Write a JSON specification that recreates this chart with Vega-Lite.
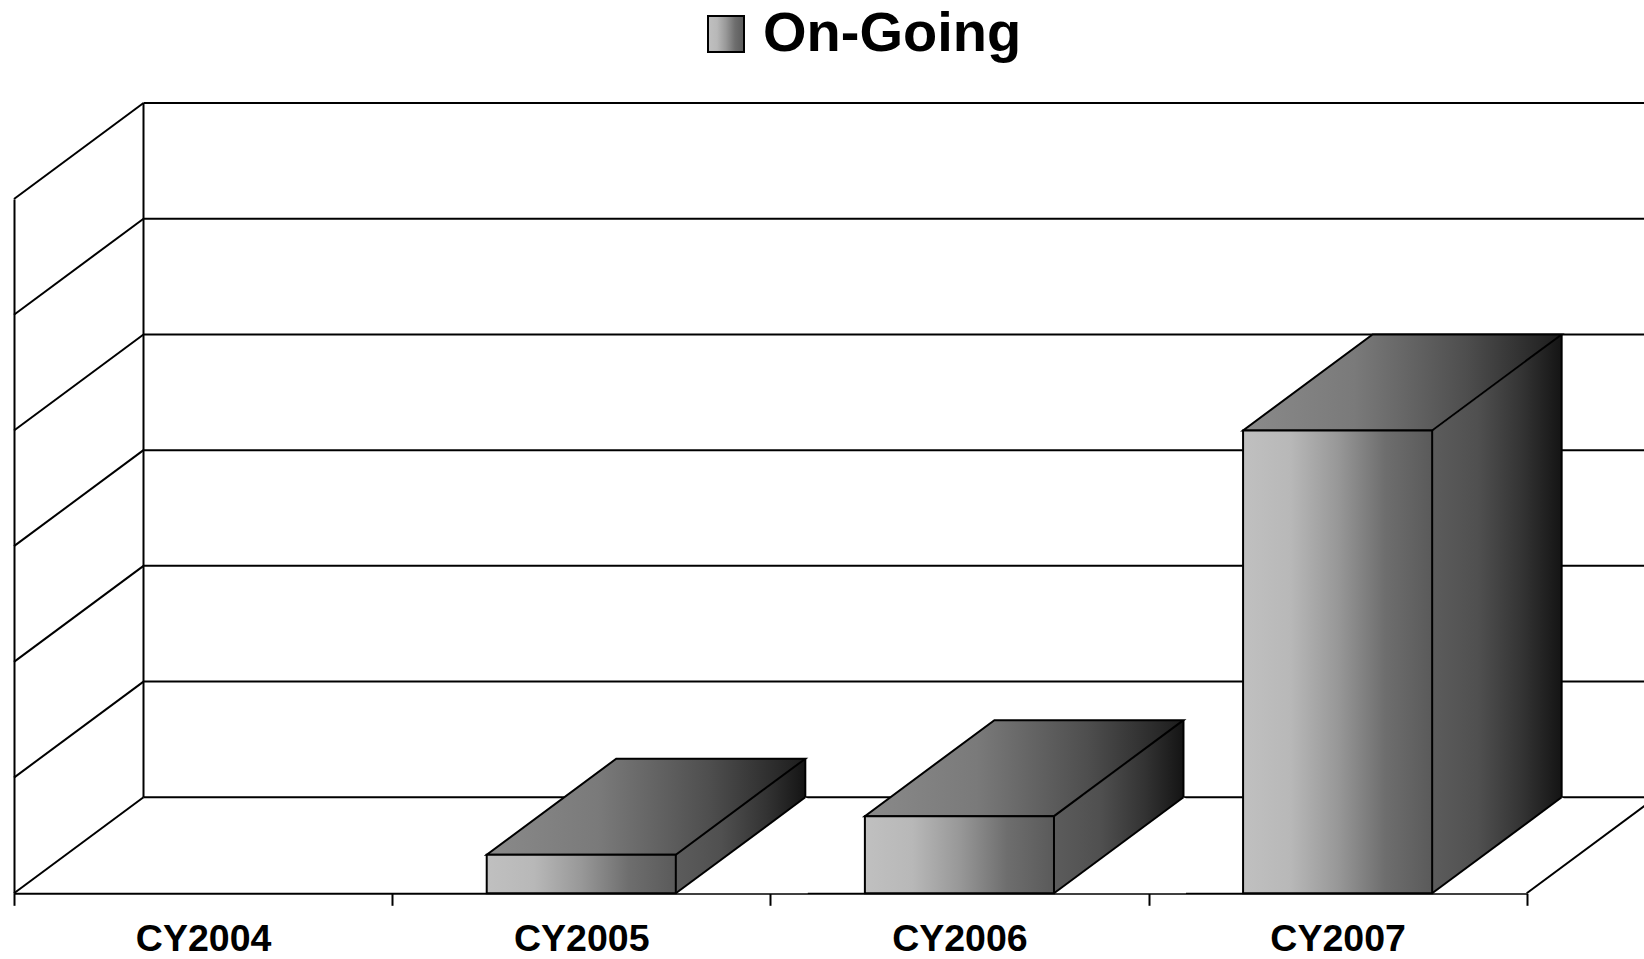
{
  "$schema": "https://vega.github.io/schema/vega-lite/v6.json",
  "width": 1512.7,
  "height": 694.3,
  "autosize": {"type": "none"},
  "padding": {"left": 14, "top": 199, "right": 117.3, "bottom": 65.7},
  "background": "white",
  "datasets": {
    "bars": [
      {"year": "CY2004", "series": "On-Going", "value": 0},
      {"year": "CY2005", "series": "On-Going", "value": 1},
      {"year": "CY2006", "series": "On-Going", "value": 2},
      {"year": "CY2007", "series": "On-Going", "value": 12}
    ],
    "grid": [{"v": 0}, {"v": 3}, {"v": 6}, {"v": 9}, {"v": 12}, {"v": 15}, {"v": 18}]
  },
  "layer": [
    {
      "data": {"name": "grid"},
      "mark": {"type": "rule", "color": "black", "strokeWidth": 2, "xOffset": 129.5, "yOffset": -96, "x2Offset": 160},
      "encoding": {
        "x": {"datum": "CY2004", "type": "nominal", "bandPosition": 0, "title": null,
              "scale": {"domain": ["CY2004", "CY2005", "CY2006", "CY2007"], "paddingInner": 0, "paddingOuter": 0}},
        "x2": {"datum": "CY2007", "bandPosition": 1},
        "y": {"field": "v", "type": "quantitative", "title": null, "scale": {"domain": [0, 18], "nice": false}}
      }
    },
    {
      "data": {"name": "grid"},
      "mark": {"type": "rule", "color": "black", "strokeWidth": 2, "xOffset": 129.5, "yOffset": -96, "y2Offset": -96},
      "encoding": {
        "x": {"datum": "CY2004", "type": "nominal", "bandPosition": 0, "title": null},
        "y": {"aggregate": "min", "field": "v", "type": "quantitative", "title": null},
        "y2": {"aggregate": "max", "field": "v"}
      }
    },
    {
      "data": {"name": "grid"},
      "mark": {"type": "rule", "color": "black", "strokeWidth": 2, "x2Offset": 129.5, "y2Offset": -96},
      "encoding": {
        "x": {"datum": "CY2004", "type": "nominal", "bandPosition": 0, "title": null},
        "x2": {"datum": "CY2004", "bandPosition": 0},
        "y": {"field": "v", "type": "quantitative", "title": null},
        "y2": {"field": "v"}
      }
    },
    {
      "data": {"name": "bars"},
      "transform": [{"filter": "datum.value > 0"}],
      "mark": {"type": "point", "shape": "M0,1L129.5,-96L129.5,1Z", "size": 4, "filled": true, "opacity": 1, "strokeWidth": 0,
        "fill": {"gradient": "linear", "x1": 0, "y1": 0, "x2": 1, "y2": 0,
          "stops": [{"offset": 0, "color": "#5c5c5c"}, {"offset": 0.35, "color": "#505050"}, {"offset": 0.7, "color": "#333333"}, {"offset": 1, "color": "#141414"}]}},
      "encoding": {
        "x": {"field": "year", "type": "nominal", "bandPosition": 0.75, "title": null},
        "y": {"field": "value", "type": "quantitative", "title": null}
      }
    },
    {
      "data": {"name": "bars"},
      "transform": [{"filter": "datum.value > 2.5"}],
      "mark": {"type": "bar", "width": 129.5, "xOffset": 159.3, "y2Offset": -96, "strokeWidth": 0,
        "fill": {"gradient": "linear", "x1": 0, "y1": 0, "x2": 1, "y2": 0,
          "stops": [{"offset": 0, "color": "#5c5c5c"}, {"offset": 0.35, "color": "#505050"}, {"offset": 0.7, "color": "#333333"}, {"offset": 1, "color": "#141414"}]}},
      "encoding": {
        "x": {"field": "year", "type": "nominal", "title": null},
        "y": {"field": "value", "type": "quantitative", "title": null},
        "y2": {"datum": 0}
      }
    },
    {
      "data": {"name": "bars"},
      "transform": [{"filter": "datum.value > 0"}],
      "mark": {"type": "point", "shape": "M0,0L0,-97L129.5,-97L129.5,-96Z", "size": 4, "filled": true, "opacity": 1, "strokeWidth": 0,
        "fill": {"gradient": "linear", "x1": 0, "y1": 0, "x2": 1, "y2": 0,
          "stops": [{"offset": 0, "color": "#5c5c5c"}, {"offset": 0.35, "color": "#505050"}, {"offset": 0.7, "color": "#333333"}, {"offset": 1, "color": "#141414"}]}},
      "encoding": {
        "x": {"field": "year", "type": "nominal", "bandPosition": 0.75, "title": null},
        "y": {"datum": 0, "type": "quantitative", "title": null}
      }
    },
    {
      "data": {"name": "bars"},
      "transform": [{"filter": "datum.value > 0"}],
      "mark": {"type": "point", "shape": "M0,0L129.5,-96L132,-94.5L132,0Z", "size": 4, "filled": true, "opacity": 1, "strokeWidth": 0, "fill": "white"},
      "encoding": {
        "x": {"field": "year", "type": "nominal", "bandPosition": 0.75, "title": null},
        "y": {"datum": 0, "type": "quantitative", "title": null}
      }
    },
    {
      "data": {"name": "grid"},
      "transform": [{"filter": "datum.v == 0"}],
      "mark": {"type": "rule", "color": "black", "strokeWidth": 2, "x2Offset": 129.5, "y2Offset": -96},
      "encoding": {
        "x": {"datum": "CY2007", "type": "nominal", "bandPosition": 1, "title": null},
        "x2": {"datum": "CY2007", "bandPosition": 1},
        "y": {"field": "v", "type": "quantitative", "title": null},
        "y2": {"field": "v"}
      }
    },
    {
      "data": {"name": "bars"},
      "transform": [{"filter": "datum.value > 0"}],
      "mark": {"type": "point", "shape": "M0,0L129.5,-96", "size": 4, "filled": false, "opacity": 1, "stroke": "black", "strokeWidth": 2},
      "encoding": {
        "x": {"field": "year", "type": "nominal", "bandPosition": 0.75, "title": null},
        "y": {"datum": 0, "type": "quantitative", "title": null}
      }
    },
    {
      "data": {"name": "bars"},
      "transform": [{"filter": "datum.value > 0"}],
      "mark": {"type": "rule", "color": "black", "strokeWidth": 2, "xOffset": 129.5, "yOffset": -96, "y2Offset": -96},
      "encoding": {
        "x": {"field": "year", "type": "nominal", "bandPosition": 0.75, "title": null},
        "y": {"field": "value", "type": "quantitative", "title": null},
        "y2": {"datum": 0}
      }
    },
    {
      "data": {"name": "bars"},
      "transform": [{"filter": "datum.value > 0"}],
      "mark": {"type": "point", "shape": "M0,0L189.1,0L318.6,-96L129.5,-96Z", "size": 4, "filled": true, "opacity": 1, "stroke": "black", "strokeWidth": 2,
        "fill": {"gradient": "linear", "x1": 0, "y1": 0, "x2": 1, "y2": 0,
          "stops": [{"offset": 0, "color": "#8a8a8a"}, {"offset": 0.35, "color": "#7a7a7a"}, {"offset": 0.7, "color": "#4e4e4e"}, {"offset": 1, "color": "#1c1c1c"}]}},
      "encoding": {
        "x": {"field": "year", "type": "nominal", "bandPosition": 0.25, "title": null},
        "y": {"field": "value", "type": "quantitative", "title": null}
      }
    },
    {
      "data": {"name": "bars"},
      "transform": [{"filter": "datum.value > 0"}],
      "mark": {"type": "bar", "width": {"band": 0.5}, "strokeWidth": 2,
        "fill": {"gradient": "linear", "x1": 0, "y1": 0, "x2": 1, "y2": 0,
          "stops": [{"offset": 0, "color": "#c0c0c0"}, {"offset": 0.25, "color": "#b8b8b8"}, {"offset": 0.5, "color": "#989898"}, {"offset": 0.75, "color": "#6e6e6e"}, {"offset": 1, "color": "#5a5a5a"}]}},
      "encoding": {
        "x": {"field": "year", "type": "nominal", "title": null},
        "y": {"field": "value", "type": "quantitative", "title": null},
        "y2": {"datum": 0},
        "stroke": {"field": "series", "type": "nominal", "title": null,
          "scale": {"range": ["#000000"]},
          "legend": {
            "orient": "none", "legendX": 684, "legendY": -193, "padding": 0,
            "labelFont": "Liberation Sans", "labelFontSize": 56, "labelFontWeight": "bold", "labelColor": "black",
            "labelOffset": 9, "labelLimit": 0,
            "symbolType": "square", "symbolSize": 1296, "symbolStrokeWidth": 2, "symbolStrokeColor": "black",
            "encode": {"symbols": {"update": {
              "fill": {"value": {"gradient": "linear", "x1": 0, "y1": 0, "x2": 1, "y2": 0,
                "stops": [{"offset": 0, "color": "#c8c8c8"}, {"offset": 0.5, "color": "#8a8a8a"}, {"offset": 1, "color": "#484848"}]}},
              "stroke": {"value": "black"},
              "strokeWidth": {"value": 2},
              "opacity": {"value": 1}
            }}}
          }
        }
      }
    }
  ],
  "config": {
    "view": {"stroke": null},
    "axisX": {
      "domainColor": "black", "domainWidth": 2, "tickColor": "black", "tickWidth": 2, "tickSize": 12,
      "tickBand": "extent", "labelFont": "Liberation Sans", "labelFontSize": 37.5, "labelFontWeight": "bold",
      "labelColor": "black", "labelBaseline": "alphabetic", "labelPadding": 45, "labelAngle": 0, "grid": false, "zindex": 1
    },
    "axisY": {
      "domainColor": "black", "domainWidth": 2, "ticks": false, "labels": false, "grid": false, "zindex": 1
    }
  }
}
